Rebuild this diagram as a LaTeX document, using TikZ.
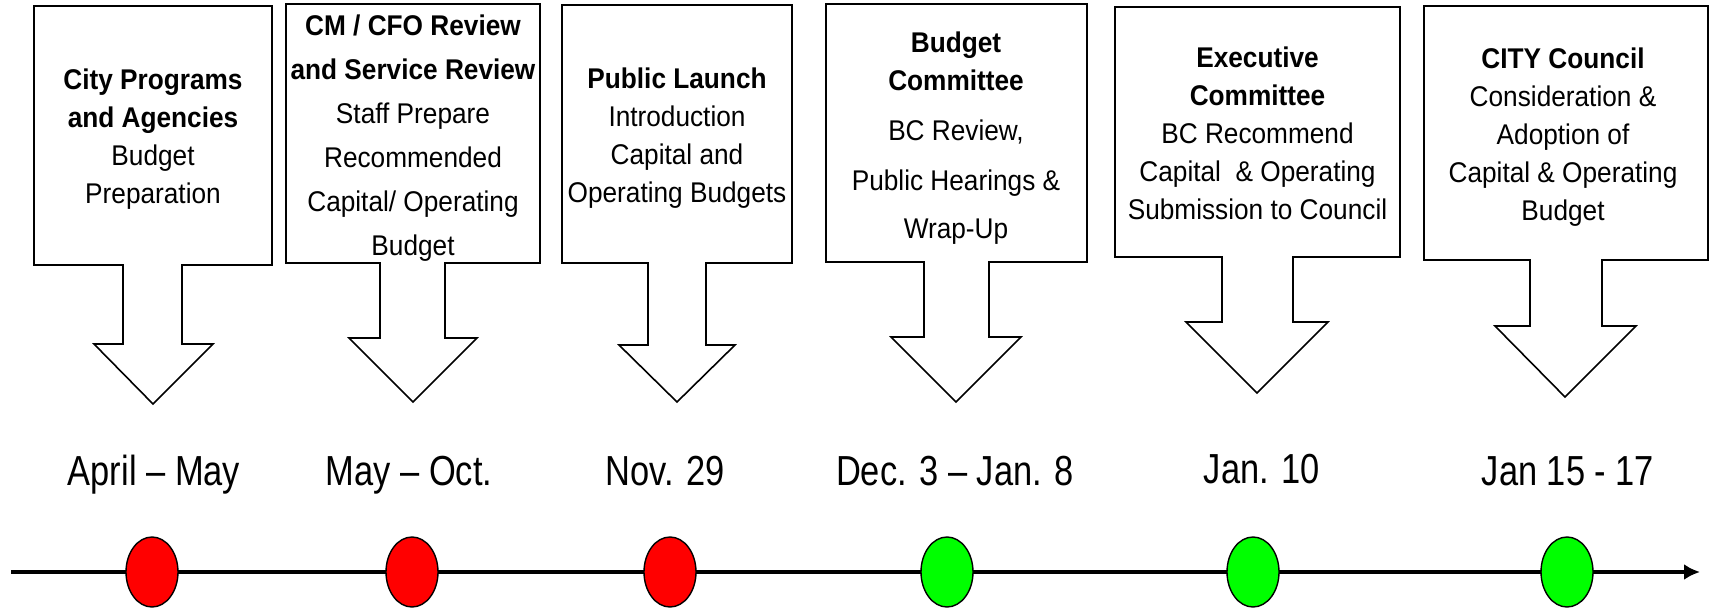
\documentclass[tikz,border=0pt]{standalone}
\usepackage{fontspec}
\setmainfont{Liberation Sans}
\newfontfamily\boxfont[FakeStretch=0.92]{Liberation Sans}
\newfontfamily\datefont[FakeStretch=0.82]{Liberation Sans}
\usepackage{xcolor}
\usepackage{tikz}
\usetikzlibrary{arrows.meta, shapes.geometric}

\definecolor{msred}{RGB}{255,0,0}
\definecolor{msgreen}{RGB}{0,255,0}

\begin{document}
\begin{tikzpicture}[
      x=1pt, y=-1pt,
      callout/.style={draw, line width=1.6pt, fill=white, line join=miter},
      boxtext/.style={align=center, inner sep=0pt,
        font=\boxfont\fontsize{28.5}{38}\selectfont},
      datetext/.style={anchor=base, inner sep=0pt,
        font=\datefont\fontsize{42}{50}\selectfont},
      milestone/.style={draw, ellipse, line width=1.4pt, inner sep=0pt,
        minimum width=52pt, minimum height=70pt},
      timeline/.style={-{Latex[length=16pt, width=16pt]}, line width=4.5pt}
    ]
    \path[use as bounding box, fill=white] (0,0) rectangle (1712,609);

    % callout boxes
    \draw[callout] (34,6) -- (272,6) -- (272,265) -- (182,265) -- (182,344) -- (213,344)
      -- (153,404) -- (94,344) -- (123,344) -- (123,265) -- (34,265) -- cycle;
    \draw[callout] (286,4) -- (540,4) -- (540,263) -- (445,263) -- (445,338) -- (477,338)
      -- (413,402) -- (349,338) -- (380,338) -- (380,263) -- (286,263) -- cycle;
    \draw[callout] (562,5) -- (792,5) -- (792,263) -- (706,263) -- (706,345) -- (735,345)
      -- (677,402) -- (619,345) -- (648,345) -- (648,263) -- (562,263) -- cycle;
    \draw[callout] (826,4) -- (1087,4) -- (1087,262) -- (989,262) -- (989,337) -- (1021,337)
      -- (956,402) -- (891,337) -- (924,337) -- (924,262) -- (826,262) -- cycle;
    \draw[callout] (1115,7) -- (1400,7) -- (1400,257) -- (1293,257) -- (1293,322) -- (1328,322)
      -- (1257,393) -- (1186,322) -- (1222,322) -- (1222,257) -- (1115,257) -- cycle;
    \draw[callout] (1424,6) -- (1708,6) -- (1708,260) -- (1602,260) -- (1602,326) -- (1636,326)
      -- (1565,397) -- (1495,326) -- (1530,326) -- (1530,260) -- (1424,260) -- cycle;

    \node[boxtext] (prep) at (153,139)
      {\textbf{City Programs}\\\textbf{and Agencies}\\Budget\\Preparation};
    \node[boxtext, font=\boxfont\fontsize{28.5}{44}\selectfont] (review) at (413,138.5)
      {\textbf{CM / CFO Review}\\\textbf{and Service Review}\\Staff Prepare\\Recommended\\Capital/ Operating\\Budget};
    \node[boxtext] (launch) at (677,138)
      {\textbf{Public Launch}\\Introduction\\Capital and\\Operating Budgets};
    \node[boxtext] (budcom) at (956,138)
      {\textbf{Budget}\\\textbf{Committee}\\[12pt]BC Review,\\[12pt]Public Hearings \&\\[10pt]Wrap-Up};
    \node[boxtext] (execcom) at (1257.5,133.5)
      {\textbf{Executive}\\\textbf{Committee}\\BC Recommend\\Capital\ \ \& Operating\\Submission to Council};
    \node[boxtext] (council) at (1563,137)
      {\textbf{CITY Council}\\Consideration \&\\Adoption of\\Capital \& Operating\\Budget};

    % dates
    \node[datetext] (aprmay) at (154,485) {April – May};
    \node[datetext] (mayoct) at (409,485) {May – Oct.};
    \node[datetext] (nov) at (665,485) {Nov. 29};
    \node[datetext] (decjan) at (955,485) {Dec. 3 – Jan. 8};
    \node[datetext] (jan10) at (1262,483) {Jan. 10};
    \node[datetext] (jan15) at (1568,485) {Jan 15 - 17};

    % timeline
    \coordinate (tstart) at (11,572);
    \coordinate (tend) at (1700,572);
    \draw[timeline] (tstart) -- (tend);

    \node[milestone, fill=msred] (m1) at (152,572) {};
    \node[milestone, fill=msred] (m2) at (412,572) {};
    \node[milestone, fill=msred] (m3) at (670,572) {};
    \node[milestone, fill=msgreen] (m4) at (947,572) {};
    \node[milestone, fill=msgreen] (m5) at (1253,572) {};
    \node[milestone, fill=msgreen] (m6) at (1567,572) {};
  \end{tikzpicture}
\end{document}
